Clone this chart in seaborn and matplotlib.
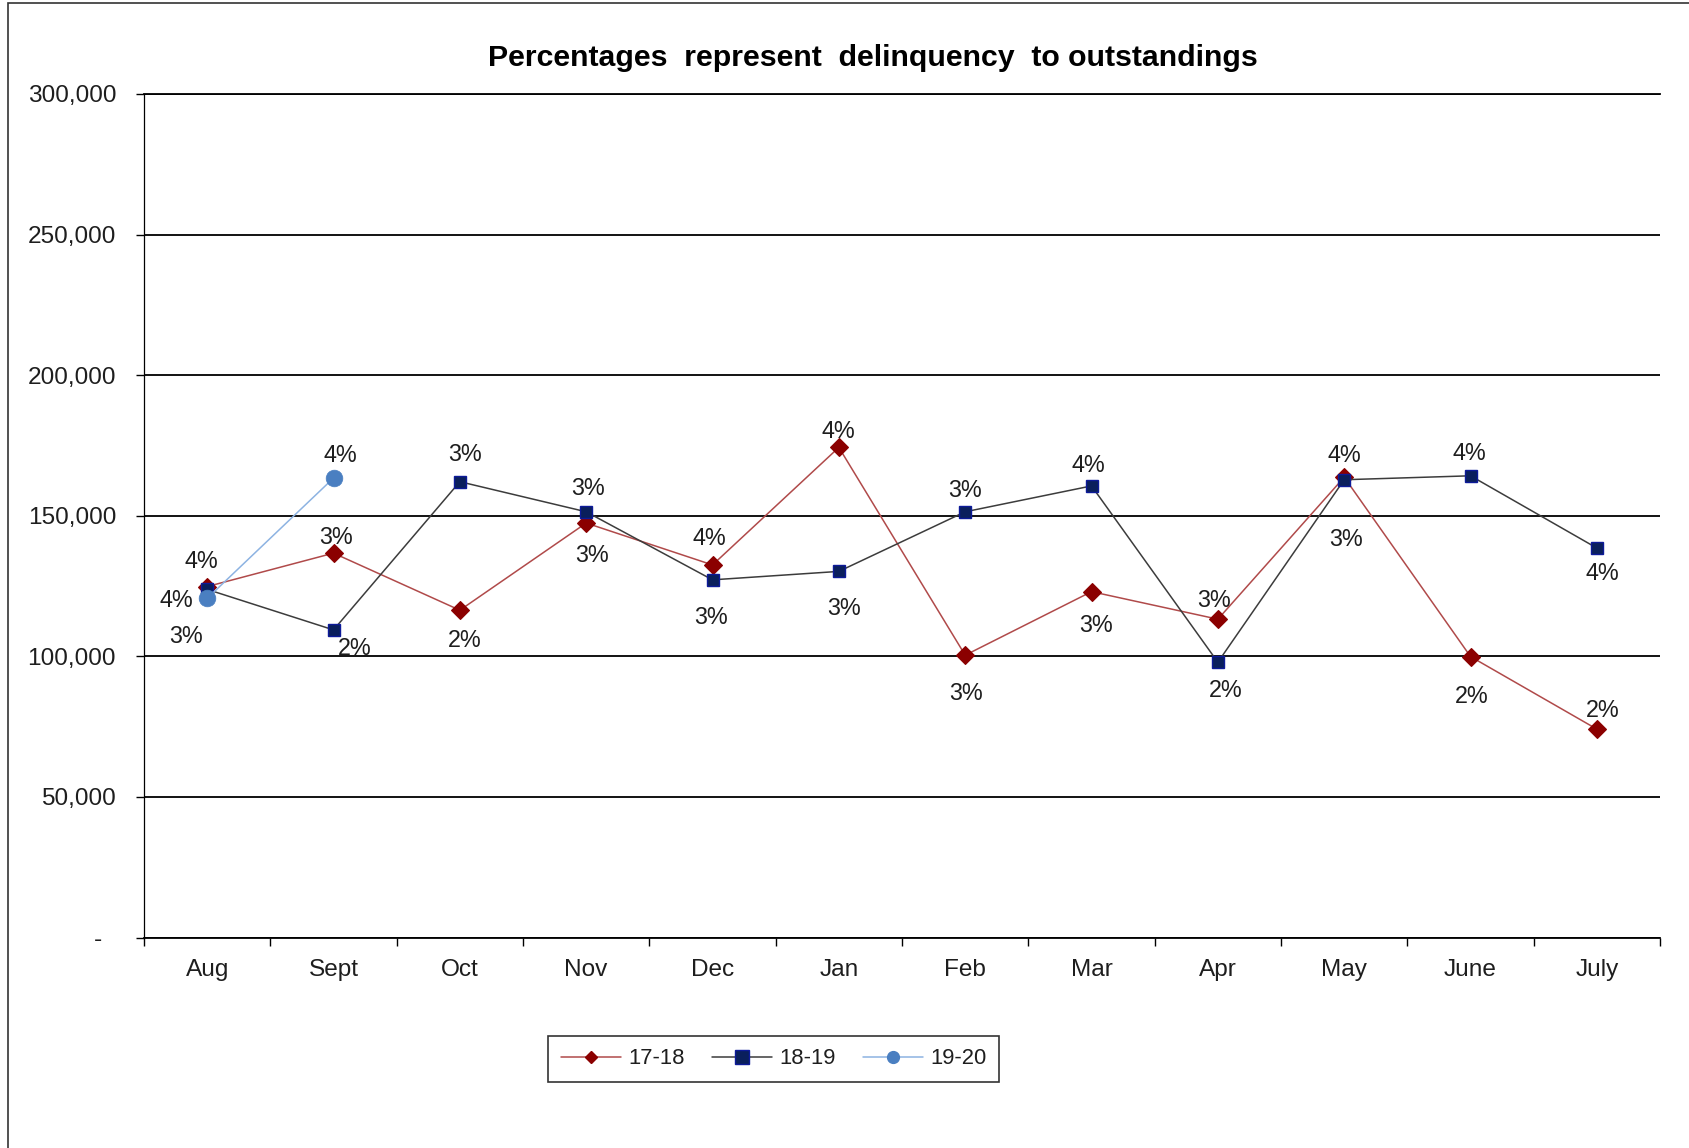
import numpy as np
import pandas as pd
import matplotlib
matplotlib.use("Agg")
import matplotlib.pyplot as plt
from matplotlib.lines import Line2D
from matplotlib.patches import Rectangle
from matplotlib.ticker import FuncFormatter, FixedLocator
import seaborn as sns

# ---- data -------------------------------------------------------------
months = ["Aug", "Sept", "Oct", "Nov", "Dec", "Jan", "Feb", "Mar", "Apr",
          "May", "June", "July"]

delinq_1718 = [124800, 136700, 116400, 147400, 132500, 174300, 100400,
               123000, 113200, 163700, 99900, 74100]
delinq_1819 = [123800, 109400, 162100, 151400, 127200, 130200, 151400,
               160600, 97900, 162800, 164200, 138500]
delinq_1920 = [120600, 163400]

pct_1718 = ["4%", "3%", "2%", "3%", "4%", "4%", "3%", "3%", "3%", "4%", "2%", "2%"]
pct_1819 = ["3%", "2%", "3%", "3%", "3%", "3%", "3%", "4%", "2%", "3%", "4%", "4%"]
pct_1920 = ["4%", "4%"]

series_names = ["17-18", "18-19", "19-20"]

# label placement around each point (pixels; +y is downward)
place_1718 = [(-6, -28), (3, -18), (5, 28), (6, 30), (-3, -29), (0, -18),
              (1, 36), (5, 31), (-4, -21), (0, -24), (1, 37), (6, -21)]
place_1819 = [(-21, 45), (21, 16), (5, -30), (2, -26), (-1, 35), (5, 35),
              (0, -24), (-3, -23), (8, 26), (2, 57), (-1, -25), (5, 23)]
place_1920 = [(-31, 0), (7, -25)]

# ---- style ------------------------------------------------------------
sns.set_theme(style="white")
plt.rcParams["font.family"] = ["Liberation Sans", "DejaVu Sans"]
text_color = "#1e1e1e"

fig = plt.figure(figsize=(16.89, 11.48), dpi=100)
ax = fig.add_axes([0.08526, 0.18336, 0.8976, 0.7348])

styles = [
    dict(color="#b04a4a", marker="D", markersize=8.8,
         markerfacecolor="#8b0000", markeredgecolor="#8b0000", markeredgewidth=0.8),
    dict(color="#3c3c3c", marker="s", markersize=9.0,
         markerfacecolor="#0a1f5c", markeredgecolor="#0d1a99", markeredgewidth=1.0),
    dict(color="#8db3e2", marker="o", markersize=12,
         markerfacecolor="#4a7fc1", markeredgecolor="#4a7fc1", markeredgewidth=0.5),
]

all_values = [delinq_1718, delinq_1819, delinq_1920]
all_pcts = [pct_1718, pct_1819, pct_1920]
all_place = [place_1718, place_1819, place_1920]

for name, vals, st in zip(series_names, all_values, styles):
    df = pd.DataFrame({"month": months[:len(vals)], "amount": vals})
    sns.lineplot(data=df, x="month", y="amount", ax=ax, sort=False,
                 linewidth=1.1, **st)

for vals, pcts, place in zip(all_values, all_pcts, all_place):
    for i, (v, p, (dx, dy)) in enumerate(zip(vals, pcts, place)):
        ax.annotate(p, (i, v), xytext=(dx, -dy), textcoords="offset pixels",
                    ha="center", va="center_baseline", fontsize=16.8,
                    color=text_color)

# ---- axes -------------------------------------------------------------
ax.set_xlim(-0.5, len(months) - 0.5)
ax.set_ylim(0, 300000)
ax.set_xlabel("")
ax.set_ylabel("")

ax.yaxis.set_major_locator(FixedLocator(np.arange(0, 300001, 50000)))
ax.yaxis.set_major_formatter(
    FuncFormatter(lambda v, _: "-  " if v == 0 else f"{v:,.0f}"))
ax.yaxis.grid(True, color="black", linewidth=1.3)
ax.xaxis.grid(False)

ax.set_xticks(range(len(months)))
ax.set_xticklabels(months)
ax.set_xticks(np.arange(-0.5, len(months)), minor=True)
ax.tick_params(axis="x", which="major", length=0, pad=15.5,
               labelsize=17.6, labelcolor=text_color)
ax.tick_params(axis="x", which="minor", length=5.5, width=1.0,
               color="black", direction="out", bottom=True)
ax.tick_params(axis="y", which="major", length=5.5, width=1.0,
               color="black", direction="out", left=True, pad=14.6,
               labelsize=17.6, labelcolor=text_color)

for side in ["top", "bottom"]:
    ax.spines[side].set_color("black")
    ax.spines[side].set_linewidth(1.3)
ax.spines["left"].set_color("black")
ax.spines["left"].set_linewidth(0.9)
ax.spines["right"].set_visible(False)

# ---- title ------------------------------------------------------------
fig.text(0.5166, 1 - 66 / 1148,
         "Percentages  represent  delinquency  to outstandings",
         ha="center", va="baseline", fontsize=21.8, fontweight="bold",
         color="black")

# ---- legend -----------------------------------------------------------
handles = [
    Line2D([], [], color=styles[0]["color"], lw=1.1, marker="D", markersize=5.8,
           markerfacecolor="#8b0000", markeredgecolor="#8b0000"),
    Line2D([], [], color=styles[1]["color"], lw=1.1, marker="s", markersize=9.5,
           markerfacecolor="#0a1f5c", markeredgecolor="#0d1a99"),
    Line2D([], [], color=styles[2]["color"], lw=1.1, marker="o", markersize=8.5,
           markerfacecolor="#4a7fc1", markeredgecolor="#4a7fc1"),
]
leg = fig.legend(handles, series_names, loc="center",
                 bbox_to_anchor=(0.458, 1 - 1059 / 1148), ncol=3,
                 frameon=True, fancybox=False, shadow=False,
                 fontsize=15.8, handlelength=2.74, handletextpad=0.33,
                 columnspacing=1.25, borderpad=0.55)
leg.get_frame().set_edgecolor("black")
leg.get_frame().set_linewidth(1.2)
for t in leg.get_texts():
    t.set_color(text_color)

# ---- outer chart frame ------------------------------------------------
fig.add_artist(Rectangle((7.6 / 1689, -0.02), 1.1, 1.02 - 3 / 1148,
                         transform=fig.transFigure, fill=False,
                         edgecolor="#333333", linewidth=1.2))

fig.savefig("out.png", dpi=100)
